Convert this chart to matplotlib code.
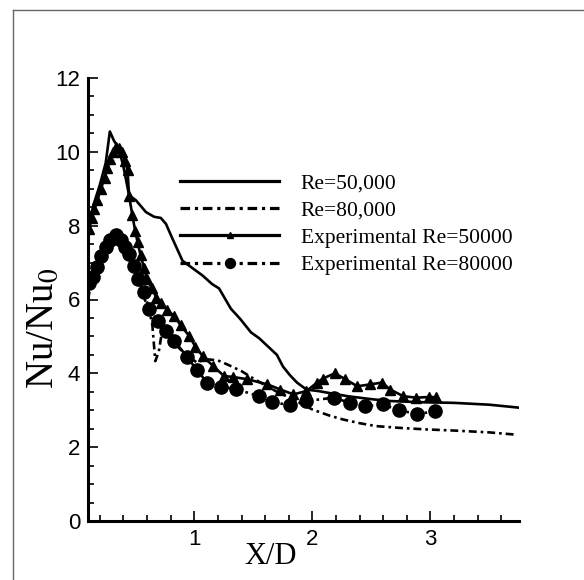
import matplotlib
matplotlib.use('Agg')
import matplotlib.pyplot as plt
from matplotlib.lines import Line2D
from matplotlib.ticker import MultipleLocator

# CFD Re=50,000
cfd50_x = [0.10, 0.12, 0.15, 0.20, 0.25, 0.285, 0.32, 0.36, 0.40, 0.448, 0.505, 0.59,
           0.66, 0.716, 0.76, 0.815, 0.90, 0.955, 1.07, 1.15, 1.21, 1.31, 1.39, 1.48,
           1.55, 1.62, 1.70, 1.75, 1.81, 1.87, 1.95, 2.05, 2.12, 2.30, 2.50, 2.66,
           2.90, 3.20, 3.50, 3.75]
cfd50_y = [7.5, 8.2, 8.6, 9.1, 9.7, 10.55, 10.3, 10.1, 9.6, 8.82, 8.69, 8.37,
           8.24, 8.21, 8.05, 7.65, 7.05, 6.92, 6.65, 6.42, 6.3, 5.75, 5.47, 5.11,
           4.95, 4.74, 4.5, 4.19, 3.95, 3.75, 3.56, 3.52, 3.48, 3.38, 3.3, 3.25,
           3.22, 3.2, 3.15, 3.07]

# CFD Re=80,000
cfd80_x = [0.10, 0.13, 0.18, 0.23, 0.28, 0.33, 0.38, 0.43, 0.48, 0.53, 0.58, 0.62,
           0.645, 0.67, 0.70, 0.73, 0.78, 0.85, 0.94, 1.02, 1.11, 1.20, 1.28, 1.34,
           1.40, 1.48, 1.56, 1.70, 1.84, 2.00, 2.15, 2.26, 2.40, 2.54, 2.75, 2.97,
           3.20, 3.50, 3.72]
cfd80_y = [6.0, 6.5, 7.0, 7.4, 7.65, 7.7, 7.55, 7.3, 6.9, 6.45, 6.0, 5.7,
           5.3, 4.33, 4.6, 5.2, 5.0, 4.75, 4.47, 4.3, 4.38, 4.35, 4.24, 4.15,
           4.06, 3.9, 3.75, 3.5, 3.29, 3.02, 2.85, 2.75, 2.65, 2.57, 2.52, 2.48,
           2.45, 2.4, 2.34]

# Experimental Re=50000
exp50_x = [0.11, 0.13, 0.155, 0.18, 0.21, 0.24, 0.265, 0.29, 0.315, 0.34, 0.365, 0.39,
           0.415, 0.435, 0.448, 0.475, 0.50, 0.52, 0.545, 0.575, 0.60, 0.64, 0.68,
           0.72, 0.77, 0.83, 0.885, 0.955, 1.01, 1.07, 1.16, 1.25, 1.33, 1.45, 1.62,
           1.73, 1.84, 1.95, 2.04, 2.09, 2.19, 2.28, 2.38, 2.49, 2.59, 2.66, 2.77,
           2.88, 2.99, 3.05]
exp50_y = [7.9, 8.2, 8.45, 8.7, 9.0, 9.3, 9.55, 9.8, 10.0, 10.12, 10.1, 10.0,
           9.75, 9.5, 8.8, 8.3, 7.85, 7.55, 7.2, 6.85, 6.55, 6.3, 6.05,
           5.9, 5.72, 5.55, 5.3, 5.02, 4.72, 4.47, 4.2, 3.93, 3.9, 3.84, 3.7,
           3.56, 3.43, 3.52, 3.75, 3.86, 4.0, 3.84, 3.65, 3.7, 3.75, 3.56, 3.38,
           3.34, 3.36, 3.35]

# Experimental Re=80000
exp80_x = [0.11, 0.14, 0.18, 0.21, 0.25, 0.29, 0.34, 0.38, 0.41, 0.45, 0.49, 0.52,
           0.575, 0.617, 0.69, 0.76, 0.83, 0.94, 1.02, 1.11, 1.23, 1.35, 1.545, 1.66,
           1.81, 1.95, 2.18, 2.32, 2.45, 2.595, 2.73, 2.89, 3.04]
exp80_y = [6.45, 6.6, 6.88, 7.19, 7.42, 7.6, 7.74, 7.6, 7.42, 7.24, 6.92, 6.56,
           6.2, 5.74, 5.42, 5.15, 4.88, 4.45, 4.09, 3.75, 3.63, 3.58, 3.38, 3.23,
           3.13, 3.25, 3.34, 3.2, 3.11, 3.16, 3.0, 2.9, 2.97]

labels = ['Re=50,000', 'Re=80,000', 'Experimental Re=50000', 'Experimental Re=80000']

W, H = 584, 580
fig = plt.figure(figsize=(W / 100, H / 100), dpi=100)
ax = fig.add_axes([88 / W, 1 - 521 / H, 431 / W, 443 / H])

dashdot = (0, (3, 1.5, 1, 1.5))
ax.plot(cfd50_x, cfd50_y, color='black', lw=1.9, label=labels[0])
ax.plot(cfd80_x, cfd80_y, color='black', lw=1.9, linestyle=dashdot, label=labels[1])
ax.plot(exp50_x, exp50_y, color='black', lw=1.9, marker='^', ms=6.5, label=labels[2])
ax.plot(exp80_x, exp80_y, color='black', lw=1.9, linestyle=dashdot, marker='o', ms=9.5,
        label=labels[3])

ax.set_xlim(0.1, 3.75)
ax.set_ylim(0, 12)
ax.xaxis.set_major_locator(MultipleLocator(1))
ax.xaxis.set_minor_locator(MultipleLocator(0.2))
ax.yaxis.set_major_locator(MultipleLocator(2))
ax.yaxis.set_minor_locator(MultipleLocator(0.5))
ax.tick_params(which='both', direction='in', top=False, right=False, width=1.2)
ax.tick_params(which='major', length=7.2, pad=5.5, labelsize=16)
ax.tick_params(which='minor', length=4)
for lab in ax.get_xticklabels() + ax.get_yticklabels():
    lab.set_fontfamily('Liberation Sans')
for s in ['top', 'right']:
    ax.spines[s].set_visible(False)
for s in ['left', 'bottom']:
    ax.spines[s].set_linewidth(2.2)

plt.rcParams['mathtext.fontset'] = 'stix'
fig.text(271 / W, 1 - 557 / H, 'X/D', family='Liberation Serif', fontsize=22,
         ha='center', va='center')
fig.text(43 / W, 1 - 328 / H, r'Nu/Nu$_0$', family='Liberation Serif', fontsize=28,
         rotation=90, ha='center', va='center')

leg = ax.legend(loc='upper left', bbox_to_anchor=(180 / W, 1 - 173 / H),
                bbox_transform=fig.transFigure, frameon=False, borderpad=0,
                borderaxespad=0, handlelength=4.6, handletextpad=1.0,
                labelspacing=0.34, markerscale=0.75,
                prop={'family': 'Liberation Serif', 'size': 15.5})
for ln in leg.get_lines():
    ln.set_linewidth(2.3)

# outer frame
fig.add_artist(Line2D([13 / W, 1], [1 - 9.5 / H] * 2, transform=fig.transFigure,
                      color='#666666', lw=1))
fig.add_artist(Line2D([13 / W] * 2, [0, 1 - 9.5 / H], transform=fig.transFigure,
                      color='#666666', lw=1))

fig.savefig('out.png', dpi=100)
